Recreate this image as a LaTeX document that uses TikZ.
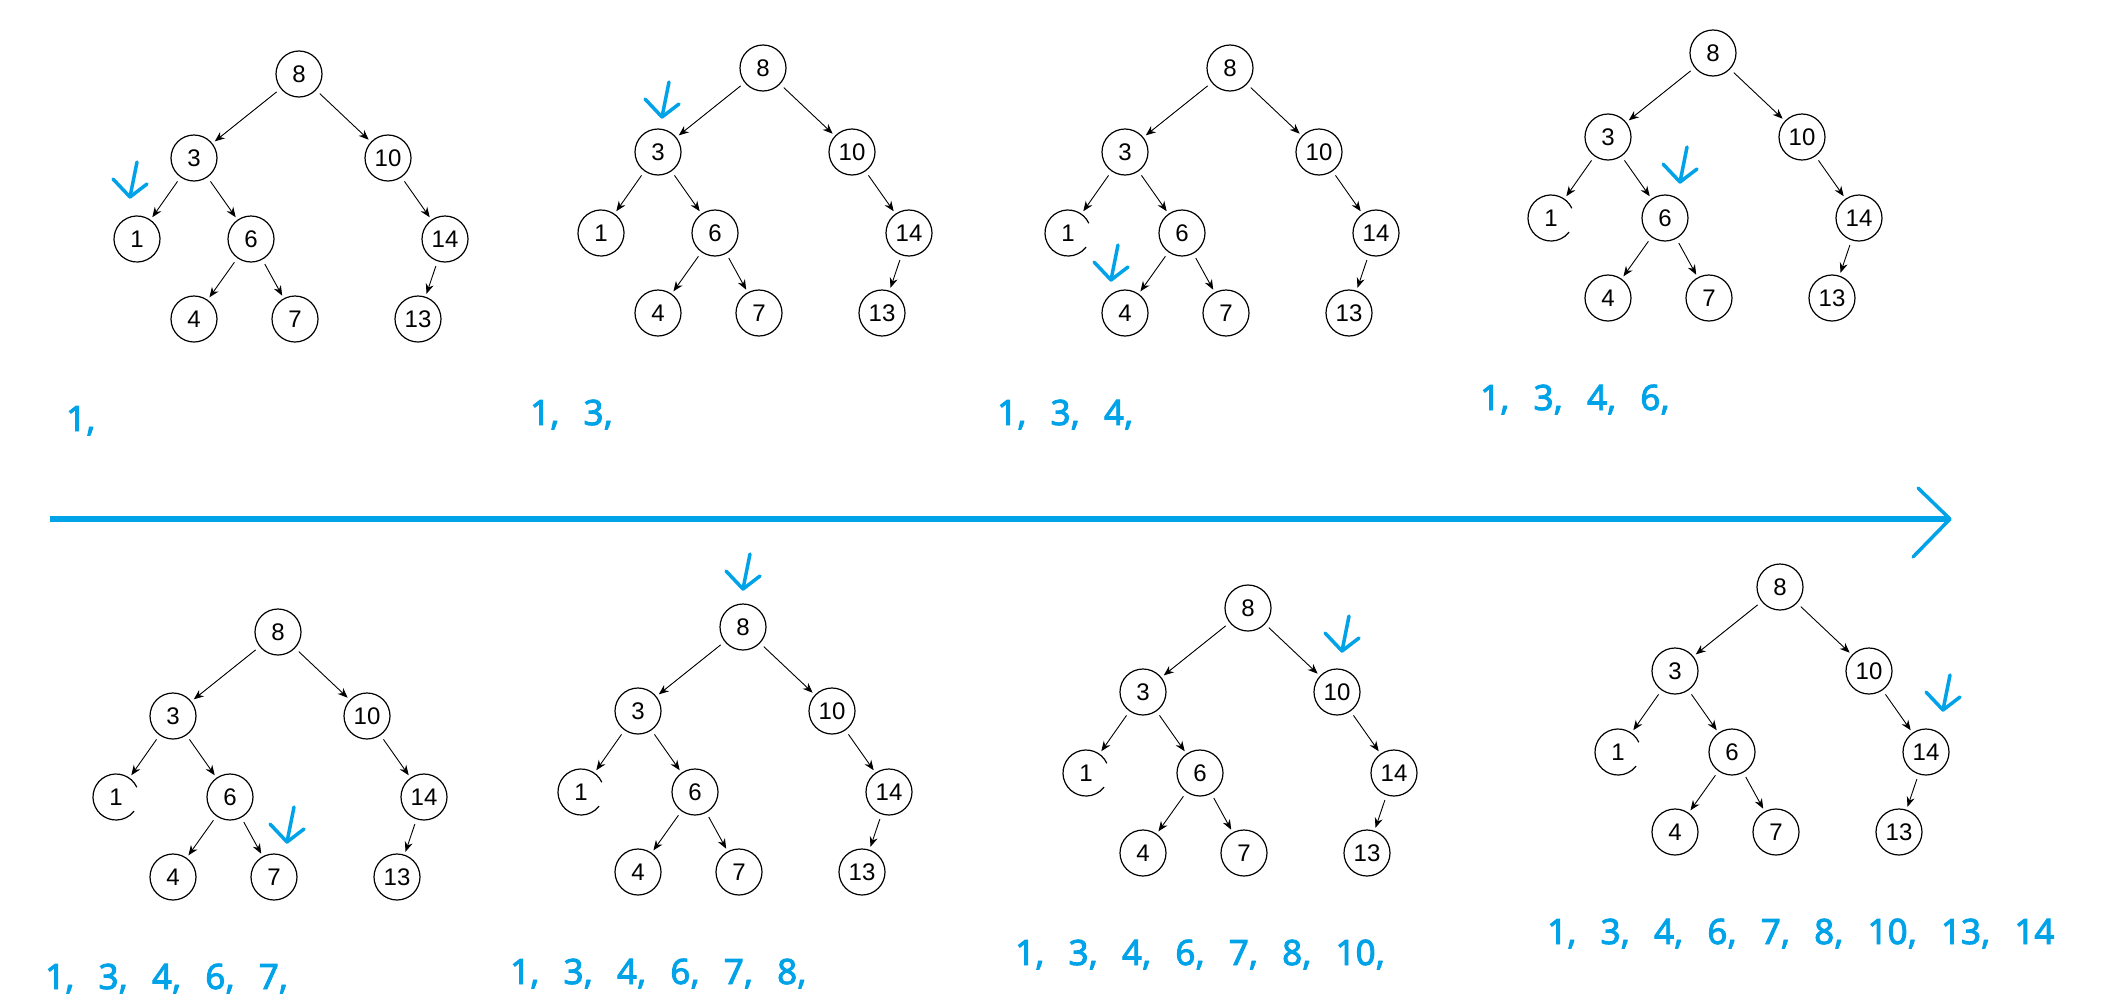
\documentclass[tikz,border=0pt]{standalone}
\usepackage{fontspec}
\usetikzlibrary{arrows.meta}
\newfontfamily\nfont{Liberation Sans}
\newfontfamily\sfont[FakeBold=2.5]{Noto Sans}
\definecolor{hblue}{RGB}{0,162,232}
\tikzset{
  tn/.style={circle, draw, line width=1.2pt, minimum size=46pt, inner sep=0pt, font={\nfont\fontsize{24}{24}\selectfont}},
  tnb/.style={tn, draw=none},
  link/.style={-{Stealth[length=10pt,width=8pt]}, line width=0.9pt, shorten <=5pt, shorten >=3pt},
  ring/.style={line width=1.2pt},
  seqtext/.style={text=hblue, anchor=base west, inner sep=0pt, font={\sfont\fontsize{35}{35}\selectfont\spaceskip=24pt\relax}},
  hand/.style={draw=hblue, line width=3.5pt, line cap=round, line join=round},
}
% #1 name, #2 x, #3 y (down), #4 end angle of ring around 1, #5 sequence
\newcommand\bst[5]{%
  \begin{scope}[shift={(#2,-#3)}]
    \node[tn] (#1-8) at (0,0) {8};
    \node[tn] (#1-3) at (-105,-84) {3};
    \node[tn] (#1-10) at (89,-84) {10};
    \node[tnb] (#1-1) at (-162,-165) {1};
    \node[tn] (#1-6) at (-48,-165) {6};
    \node[tn] (#1-14) at (146,-165) {14};
    \node[tn] (#1-4) at (-105,-245) {4};
    \node[tn] (#1-7) at (-4,-245) {7};
    \node[tn] (#1-13) at (119,-245) {13};
    \draw[ring] (#1-1.center) ++(25:23) arc[start angle=25, end angle=#4, radius=23];
    \draw[link] (#1-8) -- (#1-3);
    \draw[link] (#1-8) -- (#1-10);
    \draw[link] (#1-3) -- (#1-1);
    \draw[link] (#1-3) -- (#1-6);
    \draw[link] (#1-10) -- (#1-14);
    \draw[link] (#1-6) -- (#1-4);
    \draw[link] (#1-6) -- (#1-7);
    \draw[link] (#1-14) -- (#1-13);
    \node[seqtext] (#1-seq) at (-233,-357) {#5};
  \end{scope}}
% hand-drawn pointer: #1 name, #2 tip x, #3 tip y (down)
\newcommand\pointer[3]{%
  \coordinate (#1) at (#2,-#3);
  \draw[hand] (#1) ++(7,35) -- (#1);
  \draw[hand] (#1) ++(-17,18) -- (#1) -- ++(17,13);}
\begin{document}
\begin{tikzpicture}[x=1pt,y=1pt]
  \fill[white] (0,0) rectangle (2115,-1004);
  \useasboundingbox (0,0) rectangle (2115,-1004);

  \bst{A}{299}{74}{385}{1,}
  \bst{B}{763}{68}{385}{1, 3,}
  \bst{C}{1230}{68}{322}{1, 3, 4,}
  \bst{D}{1713}{53}{322}{1, 3, 4, 6,}
  \bst{E}{278}{632}{322}{1, 3, 4, 6, 7,}
  \bst{F}{743}{627}{322}{1, 3, 4, 6, 7, 8,}
  \bst{G}{1248}{608}{322}{1, 3, 4, 6, 7, 8, 10,}
  \bst{H}{1780}{587}{322}{1, 3, 4, 6, 7, 8, 10, 13, 14}

  \pointer{pA}{130}{197}
  \pointer{pB}{662}{117}
  \pointer{pC}{1111}{280}
  \pointer{pD}{1680}{182}
  \pointer{pE}{287}{842}
  \pointer{pF}{743}{589}
  \pointer{pG}{1342}{651}
  \pointer{pH}{1943}{710}

  \coordinate (bs) at (50,-519);
  \coordinate (be) at (1950,-519);
  \draw[hblue, line width=6pt] (bs) -- (be);
  \draw[hand] (be) ++(-32,31) -- (be) -- ++(-37,-38);
\end{tikzpicture}
\end{document}
